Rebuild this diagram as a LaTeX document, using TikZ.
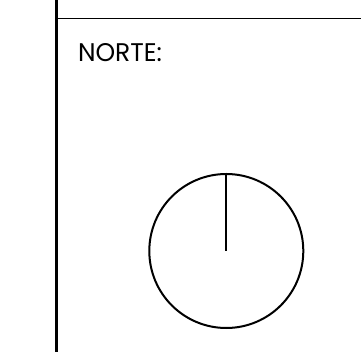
\documentclass[tikz,border=0pt]{standalone}
\usepackage{fontspec}
\setmainfont{Poppins}
\usepackage{graphicx}
\begin{document}
\begin{tikzpicture}[x=1pt,y=-1pt,
  frame/.style={line width=2.2pt,black},
  ring/.style={line width=2pt,black},
  lbl/.style={anchor=base west,inner sep=0pt,outer sep=0pt}]
\useasboundingbox (0,0) rectangle (361,352);
\coordinate (vtop) at (56.5,0);
\coordinate (vbot) at (56.5,352);
\coordinate (hl) at (56.5,18.5);
\coordinate (hr) at (361,18.5);
\draw[frame] (vtop) -- (vbot);
\draw[frame,line width=1.9pt] (hl) -- (hr);
\node[lbl] (norte) at (78,61.5) {\resizebox{84pt}{18pt}{NORTE:}};
\node[circle,draw,ring,minimum size=154pt,inner sep=0pt] (dial) at (226.3,251) {};
\draw[ring] (dial.north) -- (dial.center);
\end{tikzpicture}
\end{document}
